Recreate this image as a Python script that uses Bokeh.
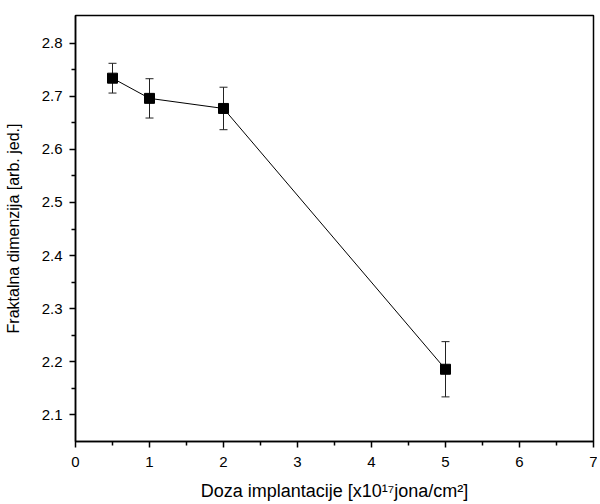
from bokeh.plotting import figure
from bokeh.models import ColumnDataSource, Whisker, TeeHead, FixedTicker, Range1d
from bokeh.embed import file_html
from bokeh.resources import INLINE

# data
doza = [0.5, 1.0, 2.0, 5.0]
fd = [2.734, 2.696, 2.677, 2.186]
err = [0.028, 0.037, 0.040, 0.052]

x_ticks = [0, 1, 2, 3, 4, 5, 6, 7]
x_minor = [0.5, 1.5, 2.5, 3.5, 4.5, 5.5, 6.5]
y_ticks = [2.1, 2.2, 2.3, 2.4, 2.5, 2.6, 2.7, 2.8]
y_minor = [2.15, 2.25, 2.35, 2.45, 2.55, 2.65, 2.75]

upper = [v + e for v, e in zip(fd, err)]
lower = [v - e for v, e in zip(fd, err)]
src = ColumnDataSource(dict(x=doza, y=fd, upper=upper, lower=lower))

FONT = "Liberation Sans"

p = figure(width=597, height=503, output_backend="svg", toolbar_location=None,
           x_range=Range1d(0, 7), y_range=Range1d(2.05, 2.852),
           min_border_left=75, min_border_right=4, min_border_top=15, min_border_bottom=60)
p.background_fill_color = "white"
p.border_fill_color = "white"
p.grid.visible = False
p.outline_line_color = "black"
p.outline_line_width = 1.5

p.line("x", "y", source=src, line_color="black", line_width=1)
w = Whisker(base="x", upper="upper", lower="lower", source=src,
            line_color="#222222", line_width=1,
            upper_head=TeeHead(size=8, line_color="#222222", line_width=1),
            lower_head=TeeHead(size=8, line_color="#222222", line_width=1))
p.add_layout(w)
p.scatter("x", "y", source=src, marker="square", size=10, fill_color="black", line_color="black")

for ax in (p.xaxis[0], p.yaxis[0]):
    ax.axis_line_color = "black"
    ax.axis_line_width = 1.5
    ax.major_tick_line_color = "black"
    ax.minor_tick_line_color = "black"
    ax.major_tick_line_width = 1.5
    ax.minor_tick_line_width = 1.5
    ax.major_tick_out = 6
    ax.major_tick_in = 0
    ax.minor_tick_out = 4
    ax.minor_tick_in = 0
    ax.major_label_text_font = FONT
    ax.major_label_text_font_size = "15px"
    ax.major_label_text_color = "black"
    ax.axis_label_text_font = FONT
    ax.axis_label_text_font_style = "normal"
    ax.axis_label_text_color = "black"

p.xaxis[0].axis_label_text_font_size = "18px"
p.yaxis[0].axis_label_text_font_size = "16px"
p.xaxis[0].ticker = FixedTicker(ticks=x_ticks, minor_ticks=x_minor)
p.yaxis[0].ticker = FixedTicker(ticks=y_ticks, minor_ticks=y_minor)
p.xaxis[0].major_label_standoff = 9
p.yaxis[0].major_label_standoff = 7
p.xaxis[0].axis_label = "Doza implantacije [x10¹⁷jona/cm²]"
p.yaxis[0].axis_label = "Fraktalna dimenzija [arb. jed.]"
p.xaxis[0].axis_label_standoff = 11
p.yaxis[0].axis_label_standoff = 17

open("out.html", "w").write(file_html(p, INLINE))
